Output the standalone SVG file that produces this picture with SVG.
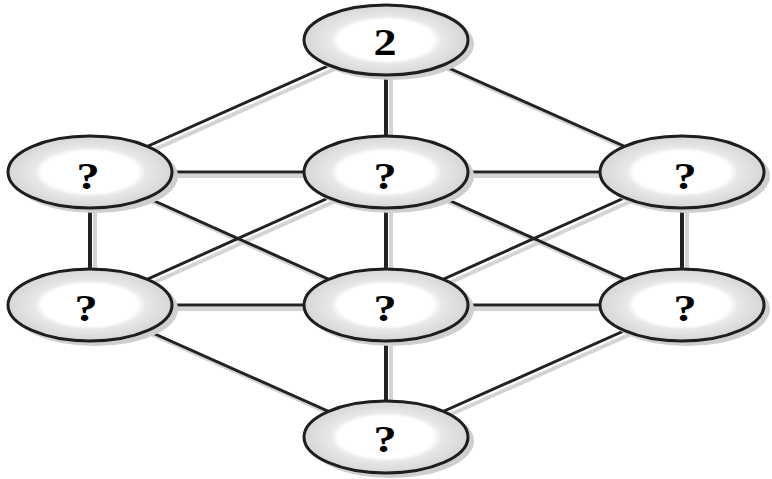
<svg xmlns="http://www.w3.org/2000/svg" width="772" height="479" viewBox="0 0 772 479">
<defs>
<radialGradient id="g" cx="0.5" cy="0.5" r="0.5">
<stop offset="0" stop-color="#ffffff"/>
<stop offset="0.58" stop-color="#ffffff"/>
<stop offset="0.68" stop-color="#e8e8e8"/>
<stop offset="1" stop-color="#d6d6d6"/>
</radialGradient>
<style>
.sh{stroke:#d4d4d4;stroke-width:4;fill:none}
.ln{stroke:#222;stroke-width:3;fill:none}
.v{stroke-width:4}
.ns{fill:#cfcfcf}
.nd{fill:url(#g);stroke:#1e1e1e;stroke-width:3}
.t{font-family:"Liberation Serif","Times New Roman",serif;font-weight:bold;font-size:37px;fill:#000;text-anchor:middle}
</style>
</defs>
<rect width="772" height="479" fill="#ffffff"/>
<g id="connectors">
<g transform="translate(5,4)">
<path class="sh" d="M386 40L90 172M386 40L386 172M386 40L682 172M90 172L682 172M90 172L90 305M386 172L386 305M682 172L682 305M90 172L386 305M386 172L90 305M386 172L682 305M682 172L386 305M90 305L682 305M90 305L386 437M386 305L386 437M682 305L386 437"/>
</g>
<path class="ln" d="M386 40L90 172M386 40L682 172M90 172L682 172M90 172L386 305M386 172L90 305M386 172L682 305M682 172L386 305M90 305L682 305M90 305L386 437M682 305L386 437"/>
<path class="ln v" d="M386 40L386 172M90 172L90 305M386 172L386 305M682 172L682 305M386 305L386 437"/>
</g>
<g id="n0"><ellipse class="ns" cx="391" cy="44" rx="83" ry="36"/><ellipse class="nd" cx="386" cy="40" rx="82" ry="35"/><text class="t" transform="translate(385,55) scale(1.25,1)">2</text></g>
<g id="n1"><ellipse class="ns" cx="95" cy="176" rx="83" ry="37"/><ellipse class="nd" cx="90" cy="172" rx="82" ry="36"/><text class="t" transform="translate(88,189) scale(1.25,1)">?</text></g>
<g id="n2"><ellipse class="ns" cx="391" cy="176" rx="83" ry="37"/><ellipse class="nd" cx="386" cy="172" rx="82" ry="36"/><text class="t" transform="translate(385,189) scale(1.25,1)">?</text></g>
<g id="n3"><ellipse class="ns" cx="687" cy="176" rx="83" ry="37"/><ellipse class="nd" cx="682" cy="172" rx="82" ry="36"/><text class="t" transform="translate(685,189) scale(1.25,1)">?</text></g>
<g id="n4"><ellipse class="ns" cx="95" cy="309" rx="83" ry="37"/><ellipse class="nd" cx="90" cy="305" rx="82" ry="36"/><text class="t" transform="translate(86,321) scale(1.25,1)">?</text></g>
<g id="n5"><ellipse class="ns" cx="391" cy="309" rx="83" ry="37"/><ellipse class="nd" cx="386" cy="305" rx="82" ry="36"/><text class="t" transform="translate(385,321) scale(1.25,1)">?</text></g>
<g id="n6"><ellipse class="ns" cx="687" cy="309" rx="83" ry="37"/><ellipse class="nd" cx="682" cy="305" rx="82" ry="36"/><text class="t" transform="translate(685,321) scale(1.25,1)">?</text></g>
<g id="n7"><ellipse class="ns" cx="391" cy="441" rx="83" ry="37"/><ellipse class="nd" cx="386" cy="437" rx="82" ry="36"/><text class="t" transform="translate(385,452) scale(1.25,1)">?</text></g>
</svg>
